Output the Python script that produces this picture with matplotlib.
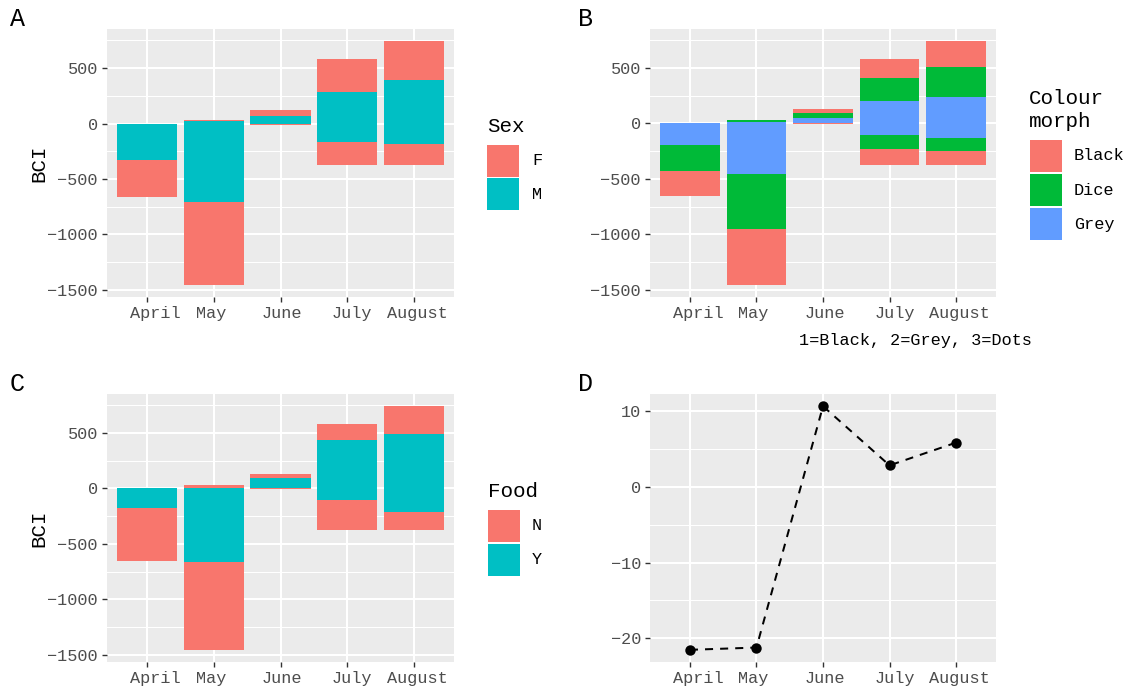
import numpy as np
import matplotlib
matplotlib.use("Agg")
import matplotlib.pyplot as plt
from matplotlib.patches import Rectangle
import matplotlib.transforms as mtransforms

plt.rcParams['font.family'] = ['Liberation Mono', 'DejaVu Sans Mono']

# ---------------- data ----------------
months = ["April", "May", "June", "July", "August"]

sex_levels = ["F", "M"]
sex_F_pos = [0, 8, 54, 296, 353]
sex_F_neg = [-329, -742, -9, -208, -196]
sex_M_pos = [0, 22, 72, 284, 389]
sex_M_neg = [-329, -712, 0, -169, -181]

morph_levels = ["Black", "Dice", "Grey"]
black_pos = [0, 0, 36, 172, 235]
black_neg = [-232, -504, -9, -151, -133]
dice_pos = [0, 15, 45, 208, 271]
dice_neg = [-235, -498, 0, -127, -118]
grey_pos = [0, 15, 45, 199, 235]
grey_neg = [-190, -452, 0, -100, -127]

food_levels = ["N", "Y"]
food_N_pos = [0, 30, 36, 145, 253]
food_N_neg = [-480, -788, -9, -270, -163]
food_Y_pos = [0, 0, 90, 434, 488]
food_Y_neg = [-178, -666, 0, -108, -215]

mean_bci = [-21.5, -21.2, 10.6, 2.8, 5.8]

bar_major = [-1500, -1000, -500, 0, 500]
bar_minor = [-1250, -750, -250, 250, 750]
line_major = [-20, -10, 0, 10]
line_minor = [-15, -5, 5]

# ---------------- style ----------------
W, H = 1130, 688
RED, CYAN, GREEN, BLUE = "#F8766D", "#00BFC4", "#00BA38", "#619CFF"
label_dx = [8, -3, 1.5, 5, 3.5]  # px shifts of month labels

fig = plt.figure(figsize=(W / 100, H / 100), dpi=100)


def add_ax(l, t, r, b):
    return fig.add_axes([l / W, 1 - b / H, (r - l) / W, (b - t) / H])


def fx(x):
    return x / W


def fy(y):
    return 1 - y / H


def style(ax, major, minor):
    ax.set_facecolor("#EBEBEB")
    for s in ax.spines.values():
        s.set_visible(False)
    xs = np.arange(len(months))
    ax.set_xlim(-0.6, len(months) - 0.4)
    ax.set_xticks(xs, months)
    ax.set_yticks(major)
    ax.set_yticks(minor, minor=True)
    ax.set_axisbelow(True)
    ax.grid(which="major", color="white", lw=1.45)
    ax.grid(which="minor", axis="y", color="white", lw=0.72)
    ax.tick_params(which="major", length=3.6, width=1.0, color="#333333",
                   labelcolor="#4D4D4D", labelsize=12.2, pad=2.9)
    ax.tick_params(which="minor", length=0)
    for lab, dx in zip(ax.get_xticklabels(), label_dx):
        off = mtransforms.ScaledTranslation(dx / 100, 0, fig.dpi_scale_trans)
        lab.set_transform(lab.get_transform() + off)


def stacked(ax, groups, colors):
    xs = np.arange(len(months))
    pos_base = np.zeros(len(months))
    neg_base = np.zeros(len(months))
    for (pos, neg), c in zip(reversed(groups), reversed(colors)):
        pos = np.asarray(pos, float)
        neg = np.asarray(neg, float)
        ax.bar(xs, pos, bottom=pos_base, width=0.9, color=c, linewidth=0)
        ax.bar(xs, neg, bottom=neg_base, width=0.9, color=c, linewidth=0)
        pos_base += pos
        neg_base += neg
    lo, hi = neg_base.min(), pos_base.max()
    pad = 0.05 * (hi - lo)
    ax.set_ylim(lo - pad, hi + pad)


def legend(title, title_x, title_base, labels, colors, key_x, key_top, lab_x):
    fig.text(fx(title_x), fy(title_base), title, fontsize=15, va="baseline",
             ha="left", color="black", linespacing=1.3)
    for i, (lab, c) in enumerate(zip(labels, colors)):
        top = key_top + 34 * i
        fig.add_artist(Rectangle((fx(key_x), fy(top + 32)), 32 / W, 32 / H,
                                 transform=fig.transFigure, facecolor=c,
                                 edgecolor="none"))
        fig.text(fx(lab_x), fy(top + 16), lab, fontsize=12.2, va="center",
                 ha="left", color="black")


def ylab(ax, text, xpx, l, r):
    ax.set_ylabel(text, fontsize=15, color="black")
    ax.yaxis.set_label_coords((xpx - l) / (r - l), 0.5)
    ax.yaxis.label.set_va("center")


# ---------------- panel A ----------------
axA = add_ax(107, 29, 454, 297)
stacked(axA, [(sex_F_pos, sex_F_neg), (sex_M_pos, sex_M_neg)], [RED, CYAN])
style(axA, bar_major, bar_minor)
ylab(axA, "BCI", 38.5, 107, 454)
legend("Sex", 487, 132, sex_levels, [RED, CYAN], 487, 144.5, 532)

# ---------------- panel B ----------------
axB = add_ax(650, 29, 996, 297)
stacked(axB, [(black_pos, black_neg), (dice_pos, dice_neg), (grey_pos, grey_neg)],
        [RED, GREEN, BLUE])
style(axB, bar_major, bar_minor)
legend("Colour\nmorph", 1029, 127, morph_levels, [RED, GREEN, BLUE], 1030, 140, 1074)
fig.text(fx(799), fy(345), "1=Black, 2=Grey, 3=Dots", fontsize=12.2,
         va="baseline", ha="left", color="black")

# ---------------- panel C ----------------
axC = add_ax(107, 394, 454, 662)
stacked(axC, [(food_N_pos, food_N_neg), (food_Y_pos, food_Y_neg)], [RED, CYAN])
style(axC, bar_major, bar_minor)
ylab(axC, "BCI", 38.5, 107, 454)
legend("Food", 488, 497, food_levels, [RED, CYAN], 488, 510, 532)

# ---------------- panel D ----------------
axD = add_ax(650, 394, 996, 662)
xs = np.arange(len(months))
axD.plot(xs, mean_bci, color="black", lw=1.45, linestyle=(0, (4, 3.5)),
         marker="o", ms=7.5, markeredgewidth=0)
lo, hi = min(mean_bci), max(mean_bci)
pad = 0.05 * (hi - lo)
axD.set_ylim(lo - pad, hi + pad)
style(axD, line_major, line_minor)

# ---------------- panel tags ----------------
for tag, x, y in [("A", 10, 26), ("B", 578, 26), ("C", 10, 391), ("D", 578, 391)]:
    fig.text(fx(x), fy(y), tag, fontsize=18, va="baseline", ha="left", color="black")

fig.savefig("out.png", dpi=100)
